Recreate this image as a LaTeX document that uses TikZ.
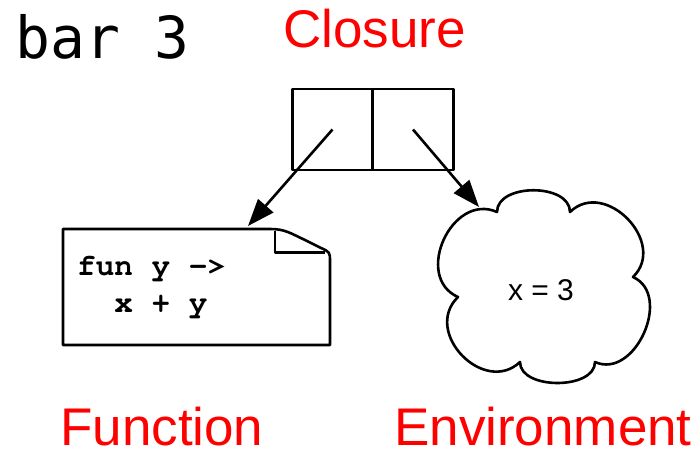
\documentclass[tikz,border=0pt]{standalone}
\usepackage[T1]{fontenc}
\usepackage{fontspec}
\setmainfont{Liberation Sans}
\newfontfamily\dejamono{DejaVu Sans Mono}
\newcommand{\courbold}{\fontencoding{T1}\fontfamily{pcr}\fontseries{b}\selectfont}
\usetikzlibrary{arrows.meta}
\definecolor{labred}{RGB}{255,0,0}
\tikzset{
  outline/.style={draw=black, line width=2.6pt, line join=round},
  cell/.style={outline, minimum width=80.5pt, minimum height=81pt, inner sep=0pt},
  arr/.style={line width=2.6pt, -{Triangle[length=27pt,width=20pt]}},
  redlabel/.style={text=labred, inner sep=0pt, font=\fontsize{53}{60}\selectfont},
  txt/.style={inner sep=0pt}
}
\begin{document}
\begin{tikzpicture}[x=1pt,y=-1pt]
\useasboundingbox (0,0) rectangle (697,453);
% title
\node[txt, anchor=base west, font=\dejamono\fontsize{58}{66}\selectfont] (title) at (15,58) {bar 3};
% labels
\node[redlabel, anchor=base west] (closurelbl) at (283,47) {Closure};
\node[redlabel, anchor=base west] (funlbl) at (60,445) {Function};
\node[redlabel, anchor=base west] (envlbl) at (394,445) {Environment};
% closure cells
\node[cell] (lcell) at (332.5,129.5) {};
\node[cell] (rcell) at (413,129.5) {};
% function document shape
\draw[outline] (63,229) -- (270,229) .. controls (285,229) and (290,233) .. (305,240)
  -- (320,247.5) .. controls (330,252) .. (330,262) -- (330,345) -- (63,345) -- cycle;
\draw[outline] (275,231) -- (275,252.5) -- (325,252.5);
\node[txt, anchor=base west, align=left, font=\courbold\fontsize{31}{37}\selectfont] (fun) at (77,312) {fun y ->\\\ \ x + y};
% cloud
\draw[outline] (497,212)
  .. controls (497,183) and (570,183) .. (570,212)
  .. controls (605,178) and (668,243) .. (633,277)
  .. controls (673,295) and (635,380) .. (595,362)
  .. controls (595,390) and (520,390) .. (520,362)
  .. controls (484,396) and (422,332) .. (458,297)
  .. controls (413,277) and (452,192) .. (497,212) -- cycle;
\node[txt, anchor=base, font=\fontsize{30}{36}\selectfont] (env) at (541,300) {x = 3};
% arrows
\coordinate (ftip) at (248,226);
\coordinate (etip) at (479,207);
\draw[arr] (lcell.center) -- (ftip);
\draw[arr] (rcell.center) -- (etip);
\end{tikzpicture}
\end{document}
